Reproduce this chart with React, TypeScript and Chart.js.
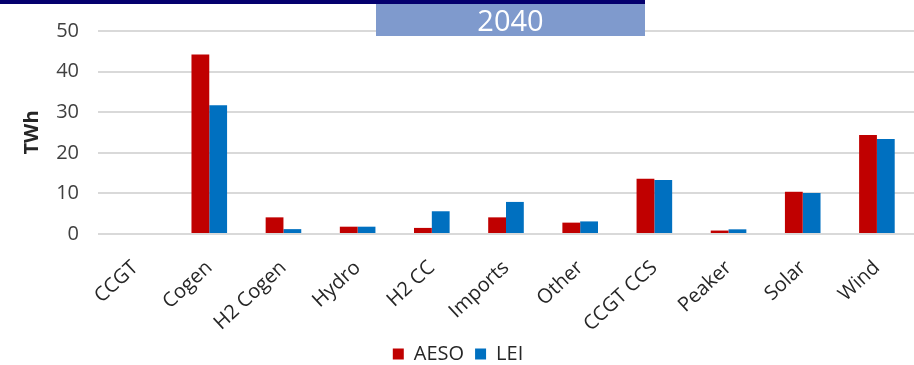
import React, { useEffect, useRef } from "react";
import { Chart, registerables } from "chart.js";

Chart.register(...registerables);

const categories = ["CCGT", "Cogen", "H2 Cogen", "Hydro", "H2 CC", "Imports", "Other", "CCGT CCS", "Peaker", "Solar", "Wind"];
const aesoValues = [0, 44.2, 4.1, 1.8, 1.5, 4.1, 2.8, 13.6, 0.85, 10.4, 24.4];
const leiValues = [0, 31.7, 1.2, 1.8, 5.6, 7.9, 3.1, 13.3, 1.15, 10.1, 23.4];
const yTicks = [0, 10, 20, 30, 40, 50];
const yearLabel = "2040";
const yTitle = "TWh";

const FONT = "'Open Sans', 'Noto Sans', sans-serif";

export default function App() {
  const ref = useRef<HTMLCanvasElement | null>(null);

  useEffect(() => {
    if (!ref.current) return;
    const chart = new Chart(ref.current, {
      type: "bar",
      data: {
        labels: categories,
        datasets: [
          { label: "AESO", data: aesoValues, backgroundColor: "#C00000", borderWidth: 0 },
          { label: "LEI", data: leiValues, backgroundColor: "#0070C0", borderWidth: 0 },
        ],
      },
      options: {
        animation: false,
        responsive: false,
        maintainAspectRatio: false,
        layout: { padding: { top: 25, left: 0, right: -2, bottom: -9 } },
        datasets: { bar: { barPercentage: 1, categoryPercentage: 0.48 } },
        plugins: {
          legend: {
            position: "bottom",
            labels: {
              boxWidth: 11,
              boxHeight: 11,
              padding: 11,
              color: "#262626",
              font: { family: FONT, size: 20 },
            },
          },
          tooltip: { enabled: false },
        },
        scales: {
          x: {
            grid: { display: false },
            border: { display: false },
            ticks: {
              color: "#262626",
              font: { family: FONT, size: 20 },
              minRotation: 43,
              maxRotation: 43,
              padding: 14,
            },
            afterFit: (s: any) => {
              s.height = 99;
            },
          },
          y: {
            min: 0,
            max: 50,
            afterBuildTicks: (s: any) => {
              s.ticks = yTicks.map((v) => ({ value: v }));
            },
            grid: { color: "#D9D9D9", lineWidth: 2, drawTicks: false },
            border: { display: false },
            ticks: {
              color: "#404040",
              font: { family: FONT, size: 20 },
              padding: 19,
            },
            title: {
              display: true,
              text: yTitle,
              color: "#262626",
              font: { family: FONT, size: 20, weight: "bold" },
              padding: { top: 20, bottom: 0 },
            },
            afterFit: (s: any) => {
              s.width = 98;
            },
          },
        },
      },
    });
    return () => chart.destroy();
  }, []);

  return (
    <div style={{ position: "absolute", left: 0, top: 0, width: 914, height: 365, background: "#fff", overflow: "hidden" }}>
      <canvas ref={ref} width={914} height={365} style={{ display: "block" }} />
      <div style={{ position: "absolute", left: 0, top: 0, width: 645, height: 4, background: "#04006E" }} />
      <div
        style={{
          position: "absolute",
          left: 376,
          top: 4,
          width: 269,
          height: 32,
          background: "#7F9ACD",
          color: "#fff",
          fontFamily: FONT,
          fontSize: 29,
          lineHeight: "32px",
          textAlign: "center",
        }}
      >
        {yearLabel}
      </div>
    </div>
  );
}
